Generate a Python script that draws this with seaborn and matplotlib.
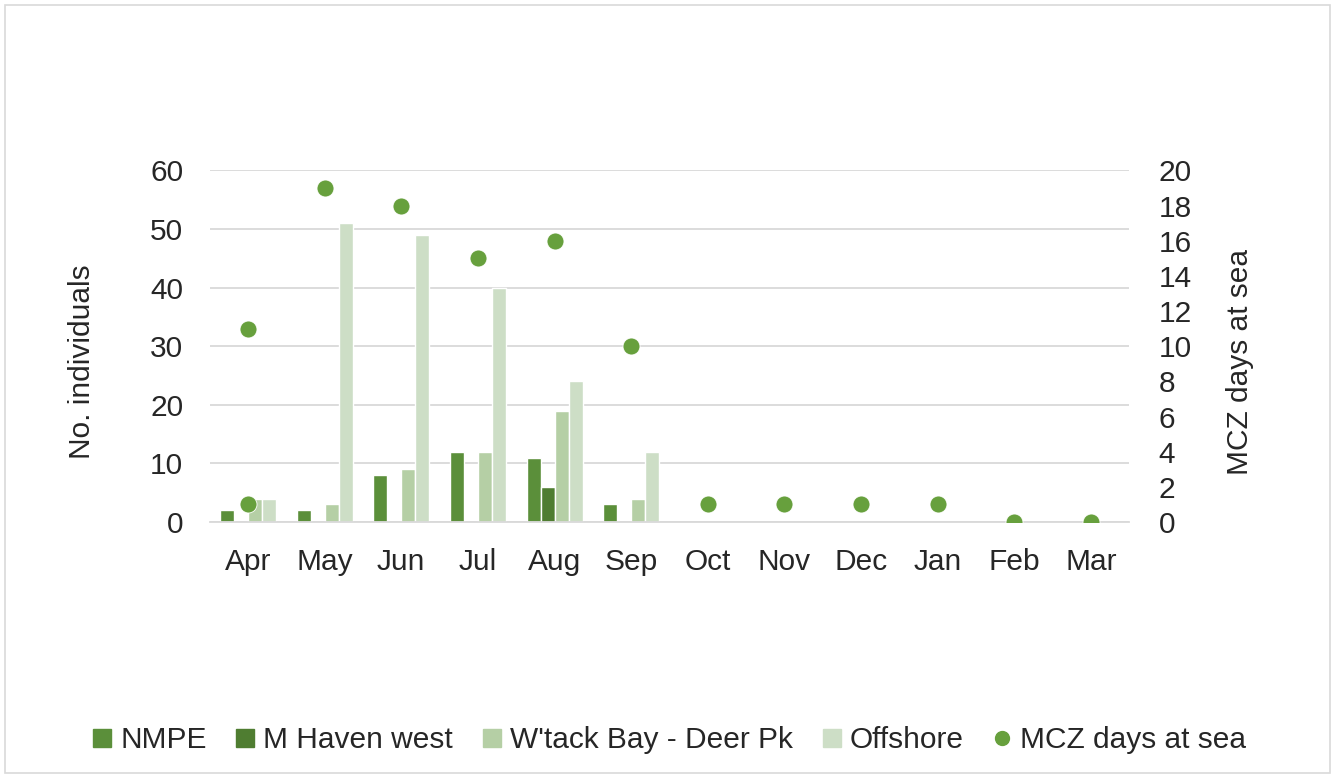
import numpy as np
import pandas as pd
import seaborn as sns
import matplotlib.pyplot as plt
from matplotlib.patches import Rectangle
from matplotlib.lines import Line2D

months = ['Apr', 'May', 'Jun', 'Jul', 'Aug', 'Sep', 'Oct', 'Nov', 'Dec', 'Jan', 'Feb', 'Mar']
sites = ['NMPE', 'M Haven west', "W'tack Bay - Deer Pk", 'Offshore']
nmpe = [2, 2, 8, 12, 11, 3, 0, 0, 0, 0, 0, 0]
mhaven = [0, 0, 0, 0, 6, 0, 0, 0, 0, 0, 0, 0]
wtack = [4, 3, 9, 12, 19, 4, 0, 0, 0, 0, 0, 0]
offshore = [4, 51, 49, 40, 24, 12, 0, 0, 0, 0, 0, 0]

# days at sea (Apr has two points plotted)
dot_months = ['Apr', 'Apr', 'May', 'Jun', 'Jul', 'Aug', 'Sep', 'Oct', 'Nov', 'Dec', 'Jan', 'Feb', 'Mar']
dot_days = [11, 1, 19, 18, 15, 16, 10, 1, 1, 1, 1, 0, 0]

colors = ['#5b8f3a', '#4f7d31', '#b5cfa5', '#cddec6']
dot_color = '#67a03d'

df = pd.DataFrame({
    'Month': months * 4,
    'Site': sum([[s] * 12 for s in sites], []),
    'Count': nmpe + mhaven + wtack + offshore,
})

sns.set_style('white')
plt.rcParams['font.family'] = ['Liberation Sans', 'DejaVu Sans']
fs = 21.5

fig = plt.figure(figsize=(13.35, 7.78), dpi=100)
ax = fig.add_axes([0.157, 0.329, 0.689, 0.452])

sns.barplot(data=df, x='Month', y='Count', hue='Site', order=months, hue_order=sites,
            palette=colors, width=0.73, saturation=1, ax=ax, legend=False)

ax.set_ylim(0, 60)
ax.set_yticks(range(0, 61, 10))
ax.yaxis.grid(True, color='#d9d9d9', lw=1.3)
ax.set_axisbelow(True)
for s in ['top', 'right', 'left']:
    ax.spines[s].set_visible(False)
ax.spines['bottom'].set_color('#d9d9d9')
ax.spines['bottom'].set_linewidth(1.3)
ax.tick_params(axis='y', length=0, labelsize=fs, pad=19)
ax.tick_params(axis='x', length=0, labelsize=fs, pad=19)
ax.set_xlabel('')
ax.set_ylabel('')

ax2 = ax.twinx()
xpos = [months.index(m) for m in dot_months]
sns.scatterplot(x=xpos, y=dot_days, ax=ax2, color=dot_color, s=150, edgecolor='white', linewidth=0.6, zorder=5)
ax2.set_ylim(0, 20)
ax2.set_yticks(range(0, 21, 2))
for s in ['top', 'right', 'left', 'bottom']:
    ax2.spines[s].set_visible(False)
ax2.tick_params(axis='y', length=0, labelsize=fs, pad=21)
ax.set_xlim(-0.5, 11.5)

fig.text(82 / 1335, 1 - 362 / 778, 'No. individuals', rotation=90, ha='center', va='center', fontsize=fs)
fig.text(1240 / 1335, 1 - 362 / 778, 'MCZ days at sea', rotation=90, ha='center', va='center', fontsize=fs)

handles = [Line2D([], [], marker='s', ls='', color=c, markersize=13) for c in colors]
handles.append(Line2D([], [], marker='o', ls='', color=dot_color, markersize=10))
fig.legend(handles, sites + ['MCZ days at sea'], loc='center', bbox_to_anchor=(0.5, 1 - 740 / 778),
           ncol=5, frameon=False, fontsize=fs, handletextpad=0.15, columnspacing=0.85,
           handlelength=0.9)

fig.patches.append(Rectangle((0.004, 0.006), 0.992, 0.988, transform=fig.transFigure,
                             fill=False, edgecolor='#d9d9d9', lw=1.2))

fig.savefig('out.png', dpi=100)
